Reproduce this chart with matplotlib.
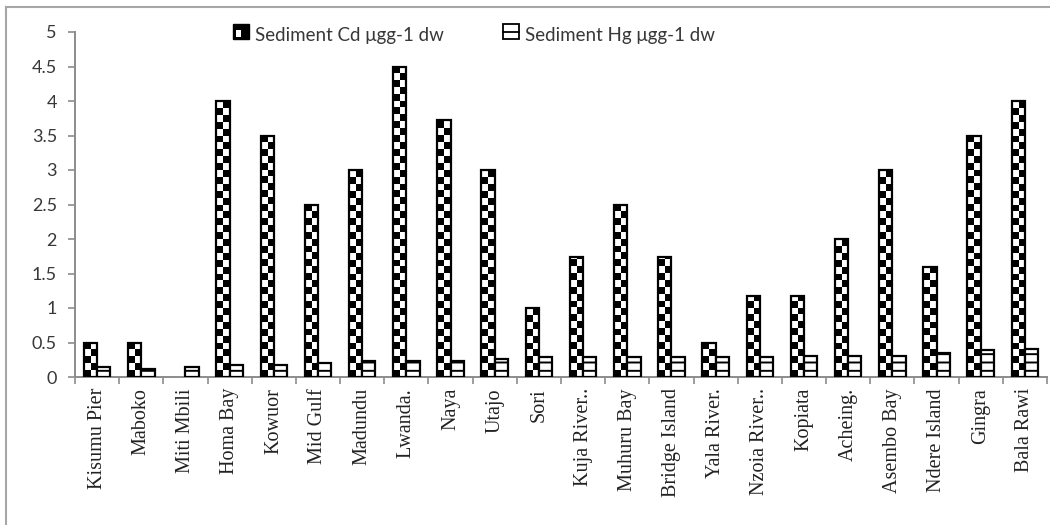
import matplotlib as mpl
import matplotlib.pyplot as plt
import numpy as np
from matplotlib.patches import Rectangle
from matplotlib.lines import Line2D

mpl.rcParams['hatch.linewidth'] = 1.4

sites = ['Kisumu Pier', 'Maboko', 'Miti Mbili', 'Homa Bay', 'Kowuor', 'Mid Gulf',
         'Madundu', 'Lwanda.', 'Naya', 'Utajo', 'Sori', 'Kuja River..', 'Muhuru Bay',
         'Bridge Island', 'Yala River.', 'Nzoia River..', 'Kopiata', 'Acheing.',
         'Asembo Bay', 'Ndere Island', 'Gingra', 'Bala Rawi']
cd = [0.5, 0.5, 0.0, 4.0, 3.5, 2.5, 3.0, 4.5, 3.72, 3.0, 1.0, 1.74, 2.5, 1.74,
      0.5, 1.18, 1.18, 2.0, 3.0, 1.6, 3.5, 4.0]
hg = [0.15, 0.12, 0.15, 0.17, 0.17, 0.2, 0.23, 0.23, 0.23, 0.26, 0.29, 0.29, 0.29,
      0.29, 0.29, 0.29, 0.31, 0.31, 0.31, 0.35, 0.39, 0.41]
cd_label = 'Sediment Cd \u03bcgg-1 dw'
hg_label = 'Sediment Hg \u03bcgg-1 dw'

GRAY = '#8c8c8c'
W = 0.3
CELL = 0.1  # checker cell height in data units


class CdKey:
    pass


class HgKey:
    pass


class CdHandler:
    def legend_artist(self, legend, orig_handle, fontsize, handlebox):
        x0, y0 = handlebox.xdescent, handlebox.ydescent
        s = min(handlebox.width, handlebox.height)
        tr = handlebox.get_transform()
        outer = Rectangle((x0, y0), s, s, facecolor='black', edgecolor='black', lw=1, transform=tr)
        inner = Rectangle((x0 + s * 0.18, y0 + s * 0.15), s * 0.35, s * 0.42,
                          facecolor='white', edgecolor='none', transform=tr)
        handlebox.add_artist(outer)
        handlebox.add_artist(inner)
        return outer


class HgHandler:
    def legend_artist(self, legend, orig_handle, fontsize, handlebox):
        x0, y0 = handlebox.xdescent, handlebox.ydescent
        s = min(handlebox.width, handlebox.height)
        tr = handlebox.get_transform()
        outer = Rectangle((x0, y0), s, s, facecolor='white', edgecolor='black', lw=1.3, transform=tr)
        mid = Line2D([x0, x0 + s], [y0 + s / 2, y0 + s / 2], color='black', lw=1.3, transform=tr)
        handlebox.add_artist(outer)
        handlebox.add_artist(mid)
        return outer


fig = plt.figure(figsize=(10.5, 5.25), dpi=100)
ax = fig.add_axes([75 / 1050, 1 - 377 / 525, 972 / 1050, 345 / 525])

x = np.arange(len(sites))

# Cd bars: white base, checker image clipped inside, outline on top
cd_bars = ax.bar(x - W / 2, cd, W, color='white', edgecolor='none', zorder=2)
for bar in cd_bars:
    h = bar.get_height()
    if h <= 0:
        continue
    nrows = int(np.ceil(h / CELL))
    arr = (np.add.outer(np.arange(nrows), np.arange(2)) % 2).astype(float)
    im = ax.imshow(arr, extent=(bar.get_x(), bar.get_x() + W, 0, nrows * CELL),
                   origin='lower', cmap='gray', vmin=0, vmax=1,
                   interpolation='nearest', aspect='auto', zorder=2.5)
    im.set_clip_path(bar)
ax.bar(x - W / 2, cd, W, facecolor='none', edgecolor='black',
       lw=[1.6 if v > 0 else 0 for v in cd], zorder=3)

# Hg bars
ax.bar(x + W / 2, hg, W, color='white', edgecolor='black', hatch='--', lw=1.6, zorder=3)

ax.set_xlim(-0.5, len(sites) - 0.5)
ax.set_ylim(0, 5)
ax.set_yticks(np.arange(0, 5.01, 0.5))
ax.set_yticklabels(['%g' % v for v in np.arange(0, 5.01, 0.5)])

ax.set_xticks(np.arange(-0.5, len(sites)), minor=False)
ax.set_xticklabels([])
ax.set_xticks(x, minor=True)
ax.set_xticklabels(sites, minor=True, rotation=90, va='top', ha='center',
                   family='Liberation Serif', fontsize=14.5, color='#222222')
ax.tick_params(axis='x', which='minor', length=0, pad=8)
ax.tick_params(axis='x', which='major', length=5, width=1.2, color=GRAY, direction='out')
ax.tick_params(axis='y', length=5, width=1.2, color=GRAY, direction='out', pad=8,
               labelsize=13, labelcolor='#383838')
for lab in ax.get_yticklabels():
    lab.set_family('Lato')

for side in ['top', 'right']:
    ax.spines[side].set_visible(False)
for side in ['left', 'bottom']:
    ax.spines[side].set_color(GRAY)
    ax.spines[side].set_linewidth(1.4)

leg = fig.legend([CdKey(), HgKey()], [cd_label, hg_label],
                 handler_map={CdKey: CdHandler(), HgKey: HgHandler()},
                 loc='center', bbox_to_anchor=(474 / 1050, 1 - 35 / 525), ncol=2,
                 frameon=False, handlelength=0.9, handleheight=0.9, handletextpad=0.25,
                 columnspacing=3.2, prop={'family': 'Lato', 'size': 13.5})
for t in leg.get_texts():
    t.set_color('#383838')

# outer chart frame
fig.add_artist(Line2D([6 / 1050, 1.0], [1 - 7 / 525] * 2, color='#a6a6a6', lw=1.5,
                      transform=fig.transFigure))
fig.add_artist(Line2D([6 / 1050] * 2, [0, 1 - 7 / 525], color='#a6a6a6', lw=1.5,
                      transform=fig.transFigure))

fig.savefig('out.png', dpi=100)
